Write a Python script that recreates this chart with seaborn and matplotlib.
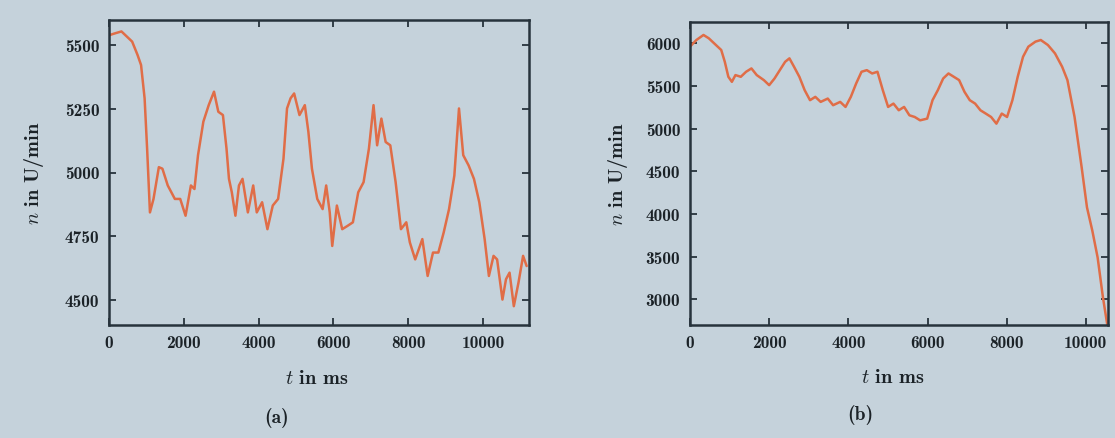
import numpy as np
import pandas as pd
import matplotlib
matplotlib.use("Agg")
import matplotlib.pyplot as plt
import seaborn as sns

# ---------------- data ----------------
# panel (a): time in ms, speed in U/min
t_a = [0, 171, 333, 619, 762, 857, 952, 1019, 1095, 1190,
       1333, 1428, 1571, 1761, 1904, 2047, 2190, 2285, 2380, 2523,
       2666, 2808, 2923, 3046, 3142, 3208, 3284, 3380, 3475, 3570,
       3713, 3856, 3951, 4094, 4236, 4379, 4522, 4665, 4760, 4855,
       4950, 5093, 5236, 5331, 5426, 5569, 5712, 5807, 5902, 5969,
       6093, 6236, 6378, 6521, 6664, 6807, 6950, 7073, 7169, 7283,
       7397, 7521, 7664, 7806, 7949, 8044, 8187, 8378, 8520, 8663,
       8806, 8949, 9092, 9234, 9358, 9472, 9615, 9758, 9901, 10044,
       10158, 10282, 10377, 10520, 10615, 10710, 10824, 10948, 11072, 11167]
n_a = [5540, 5548, 5555, 5515, 5463, 5423, 5292, 5094, 4843, 4896,
       5021, 5015, 4949, 4896, 4896, 4830, 4949, 4935, 5068, 5200,
       5265, 5318, 5239, 5226, 5094, 4975, 4922, 4830, 4949, 4975,
       4843, 4949, 4843, 4883, 4777, 4870, 4896, 5054, 5252, 5292,
       5311, 5226, 5265, 5160, 5015, 4896, 4856, 4949, 4843, 4711,
       4870, 4777, 4790, 4804, 4922, 4962, 5094, 5265, 5107, 5212,
       5120, 5107, 4962, 4777, 4804, 4725, 4658, 4738, 4593, 4685,
       4685, 4764, 4856, 4988, 5252, 5068, 5028, 4975, 4883, 4738,
       4593, 4672, 4658, 4500, 4580, 4606, 4474, 4566, 4672, 4632]

# panel (b)
t_b = [0, 161, 341, 475, 610, 789, 879, 969, 1058, 1148,
       1283, 1417, 1552, 1686, 1866, 2000, 2135, 2269, 2404, 2512,
       2628, 2763, 2897, 3032, 3166, 3301, 3480, 3615, 3794, 3929,
       4063, 4198, 4333, 4467, 4602, 4736, 4871, 5005, 5140, 5274,
       5409, 5543, 5678, 5813, 5992, 6127, 6261, 6396, 6530, 6665,
       6799, 6934, 7068, 7203, 7337, 7472, 7607, 7741, 7876, 8010,
       8145, 8279, 8414, 8548, 8728, 8862, 9042, 9221, 9401, 9535,
       9715, 9894, 10029, 10164, 10298, 10433, 10567]
n_b = [5961, 6039, 6098, 6059, 6000, 5922, 5784, 5608, 5549, 5628,
       5608, 5667, 5706, 5628, 5569, 5510, 5588, 5686, 5784, 5824,
       5726, 5608, 5451, 5334, 5373, 5314, 5353, 5275, 5314, 5255,
       5373, 5530, 5667, 5686, 5647, 5667, 5451, 5255, 5294, 5216,
       5255, 5157, 5137, 5098, 5118, 5334, 5451, 5588, 5647, 5608,
       5569, 5432, 5334, 5294, 5216, 5177, 5137, 5059, 5177, 5137,
       5334, 5608, 5843, 5961, 6020, 6039, 5980, 5882, 5726, 5569,
       5137, 4549, 4078, 3805, 3491, 3021, 2630]

xticks_a = [0, 2000, 4000, 6000, 8000, 10000]
yticks_a = [4500, 4750, 5000, 5250, 5500]
xticks_b = [0, 2000, 4000, 6000, 8000, 10000]
yticks_b = [3000, 3500, 4000, 4500, 5000, 5500, 6000]
panel_labels = ["(a)", "(b)"]
xlabel_txt = "$t$ in ms"
ylabel_txt = "$n$ in U/min"

# ---------------- style ----------------
bg = "#c5d2db"
sns.set_theme(style="ticks")
plt.rcParams["font.family"] = ["cmb10", "DejaVu Serif"]
plt.rcParams["mathtext.fontset"] = "cm"
plt.rcParams["axes.formatter.use_mathtext"] = True
spine_c = "#27333c"
text_c = "#1b2227"
line_c = "#e06d47"

fig = plt.figure(figsize=(11.15, 4.39), dpi=100, facecolor=bg)
W, H = 1115, 439
ax_a = fig.add_axes([109 / W, 1 - 326 / H, 420 / W, 305 / H])
ax_b = fig.add_axes([690 / W, 1 - 326 / H, 418 / W, 303 / H])

df_a = pd.DataFrame({"t": t_a, "n": n_a})
df_b = pd.DataFrame({"t": t_b, "n": n_b})

sns.lineplot(data=df_a, x="t", y="n", ax=ax_a, color=line_c, linewidth=1.8)
sns.lineplot(data=df_b, x="t", y="n", ax=ax_b, color=line_c, linewidth=1.8)

setups = [
    (ax_a, (0, 11230), (4400, 5600), xticks_a, yticks_a,
     (0.495, -0.174), (-0.179, 0.5)),
    (ax_b, (0, 10560), (2700, 6250), xticks_b, yticks_b,
     (0.486, -0.172), (-0.172, 0.5)),
]
for ax, xl, yl, xt, yt, xlc, ylc in setups:
    ax.set_facecolor(bg)
    ax.set_xlim(*xl)
    ax.set_ylim(*yl)
    ax.set_xticks(xt)
    ax.set_yticks(yt)
    ax.set_xticklabels([str(v) for v in xt])
    ax.set_yticklabels([str(v) for v in yt])
    ax.tick_params(direction="in", length=5, width=1.3, top=True, right=True,
                   labelsize=12.5, color=spine_c, labelcolor=text_c, pad=7)
    for s in ax.spines.values():
        s.set_visible(True)
        s.set_color(spine_c)
        s.set_linewidth(1.8)
    ax.set_xlabel(xlabel_txt, fontsize=14.5, color=text_c)
    ax.set_ylabel(ylabel_txt, fontsize=14.5, color=text_c)
    ax.xaxis.set_label_coords(*xlc)
    ax.yaxis.set_label_coords(*ylc)
    ax.xaxis.label.set_va("center")
    ax.yaxis.label.set_va("center")

for lab, (px, py) in zip(panel_labels, [(277, 418), (860, 415)]):
    fig.text(px / W, 1 - py / H, lab, ha="center", va="center", fontsize=14,
             color=text_c, family=["cmb10", "DejaVu Serif"])

fig.savefig("out.png", dpi=100, facecolor=bg)
